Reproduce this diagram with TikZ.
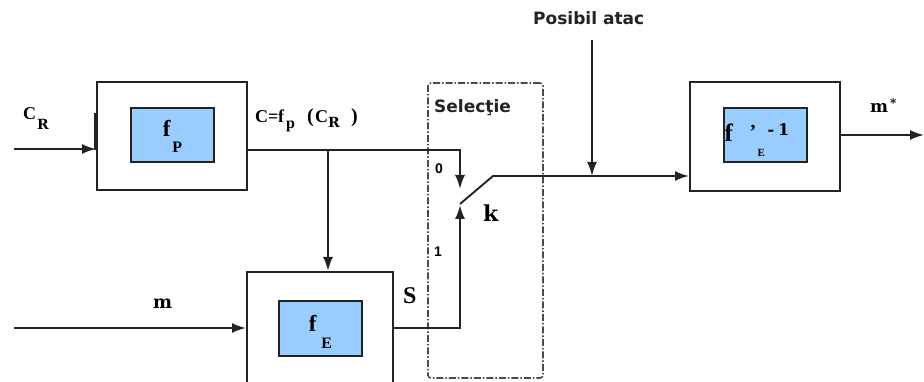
\documentclass[tikz,border=0pt]{standalone}
\usepackage{fontspec}
\usetikzlibrary{arrows.meta,calc}
\newfontfamily\tserif{Liberation Serif}
\newfontfamily\dserif{DejaVu Serif}
\newfontfamily\dsans{DejaVu Sans}
\newfontfamily\lsans{Liberation Sans}
\definecolor{ln}{RGB}{35,35,35}
\definecolor{fillb}{RGB}{153,204,255}
\definecolor{dashc}{RGB}{75,75,75}
\newcommand\fs[1]{\fontsize{#1}{#1}\selectfont}
\newcommand\putat[3]{\rlap{\kern#1pt\raisebox{#2pt}{#3}}}
\begin{document}
\begin{tikzpicture}[x=1pt,y=-1pt,
  outerbox/.style={draw=ln,line width=2pt,minimum width=150pt,minimum height=108pt,inner sep=0pt,fill=white},
  innerbox/.style={draw=ln,line width=1.6pt,fill=fillb,minimum width=83pt,minimum height=54pt,inner sep=0pt,font=\tserif\bfseries},
  wire/.style={draw=ln,line width=1.9pt},
  arr/.style={wire,-{Latex[length=14pt,width=10pt]}},
  selbox/.style={draw=dashc,line width=1.6pt,dash pattern=on 7pt off 2pt on 1.5pt off 2pt,rounded corners=3pt,minimum width=115pt,minimum height=295pt,inner sep=0pt},
  lbl/.style={anchor=base west,inner sep=0pt},
  sanslbl/.style={lbl,font=\dsans\bfseries\fs{17},text=ln}
]
\useasboundingbox (0,0) rectangle (924,382);
\clip (0,0) rectangle (924,382);
\fill[white] (0,0) rectangle (924,382);

% selection frame
\node[selbox] (sel) at (485.5,230.5) {};

% blocks
\node[outerbox] (fpo) at (172,136) {};
\node[innerbox,text height=15pt,text depth=11pt] (fp) at (172.5,135) {\fs{23}f\kern2pt\raisebox{-16pt}{\fs{16}P}};
\draw[ln,line width=3.5pt] (fpo.west |- 0,113) -- (fpo.west |- 0,150);

\node[outerbox,minimum width=146pt,minimum height=120pt] (fEo) at (320,332) {};
\node[innerbox,minimum height=55pt,text height=16pt,text depth=11pt] (fE) at (320.5,328.5) {\fs{23}f\kern5pt\raisebox{-17pt}{\fs{16}E}};

\node[outerbox,minimum height=109pt] (fio) at (765,136.5) {};
\node[innerbox,text height=17pt,text depth=3pt,align=left,text width=82pt,inner xsep=0.5pt] (fi) at (765.5,135)
  {\putat{0}{0}{\fs{25}f}\putat{25}{3}{\fs{20}’}\putat{33}{-15}{\fs{11}E}\putat{43}{6}{\dserif\bfseries\fs{16}-\kern4pt1}};

% labels
\node[lbl] (lcr) at (23,120) {\tserif\bfseries\fs{18}C\kern1pt\raisebox{-10pt}{\dserif\bfseries\fs{14}R}};
\node[lbl] (lc) at (255,123) {\tserif\bfseries\fs{18}%
  \putat{0}{0}{C}\putat{13}{0}{=}\putat{23}{0}{f}\putat{31}{-6}{\fs{16}p}%
  \putat{52}{0}{\fs{20}(}\putat{60}{0}{C}\putat{73}{-5}{\dserif\bfseries\fs{14}R}\putat{96}{0}{\fs{20})}\kern103pt};
\node[lbl] (lm) at (153,308) {\dserif\bfseries\fs{18}m};
\node[lbl] (lms) at (870,113) {\dserif\bfseries\fs{17}m\kern2pt\raisebox{5pt}{\fs{12}*}};
\node[lbl] (ls) at (403,303) {\tserif\bfseries\fs{24}S};
\node[lbl] (lk) at (483,222) {\dserif\bfseries\fs{22}k};
\node[lbl] (l0) at (435,174) {\lsans\bfseries\fs{14}0};
\node[lbl] (l1) at (434,257) {\lsans\bfseries\fs{14}1};
\node[sanslbl] (lsel) at (434,113) {Selecţie};
\node[sanslbl] (latk) at (533,25) {Posibil atac};

% connectors
\coordinate (crin) at (14,149);
\draw[arr] (crin) -- (crin -| fpo.west);
\coordinate (j0) at (460,150);
\coordinate (c0) at (460,189);
\coordinate (br) at (328,150);
\draw[arr] (fpo.east |- j0) -- (j0) -- (c0);
\draw[arr] (br) -- (br |- fEo.north);
\coordinate (min) at (14,328);
\draw[arr] (min) -- (min -| fEo.west);
\coordinate (j1) at (460,328);
\coordinate (c1) at (460,205);
\draw[arr] (fEo.east |- j1) -- (j1) -- (c1);
\coordinate (piv) at (460,204);
\coordinate (lev) at (493,176);
\draw[arr] (piv) -- (lev) -- (lev -| fio.west);
\coordinate (atk) at (592,40);
\draw[arr] (atk) -- (atk |- lev);
\coordinate (out) at (924,135);
\draw[arr] (fio.east |- out) -- (out);
\end{tikzpicture}
\end{document}
